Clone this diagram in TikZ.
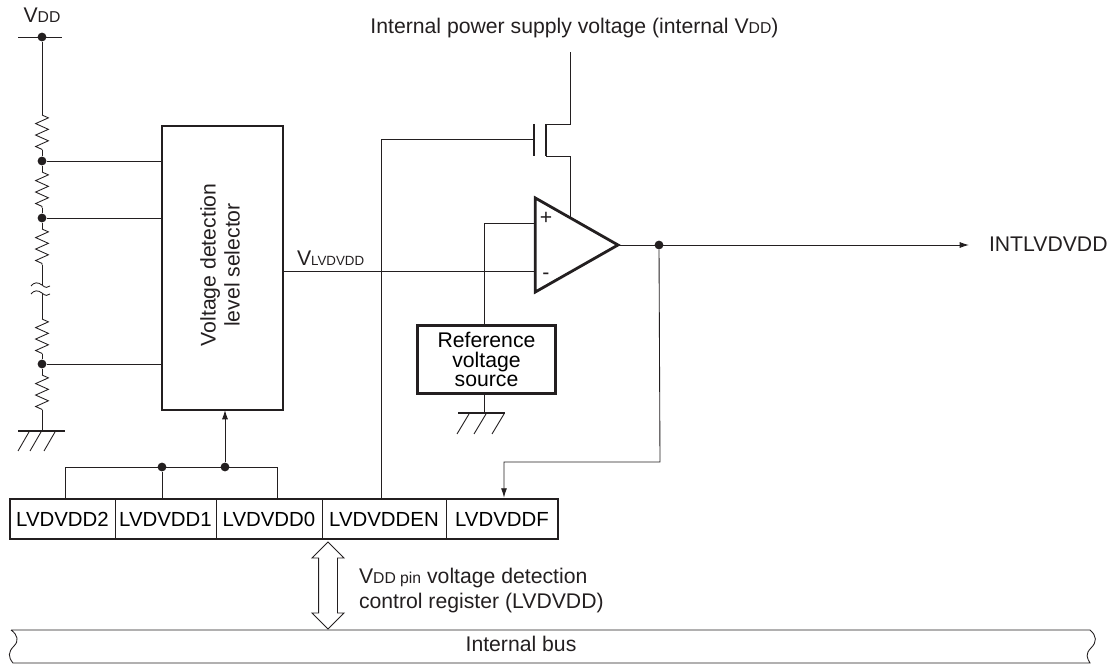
\documentclass[tikz,border=0pt]{standalone}
\usepackage{fontspec}
\setmainfont{Liberation Sans}
\usetikzlibrary{arrows.meta,positioning,shapes.geometric,shapes.arrows,fit,decorations.pathmorphing}
\definecolor{Ink}{RGB}{35,31,32}
\newcommand{\lbl}{\fontsize{15.9}{14.8}\selectfont}
\newcommand{\sm}[1]{{\fontsize{11.8}{11}\selectfont #1}}
\tikzset{
  wire/.style={line width=0.65pt,draw=Ink},
  heavy/.style={line width=2.1pt,draw=Ink},
  blockbox/.style={heavy,fill=white,inner sep=0pt,outer sep=0pt,align=center,font=\lbl},
  regcell/.style={wire,inner sep=0pt,outer sep=0pt,minimum height=30pt,font=\fontsize{15.3}{15}\selectfont},
  txt/.style={inner sep=0pt,outer sep=0pt,text=Ink,font=\lbl},
  dot/.style={circle,fill=Ink,inner sep=0pt,minimum size=6.6pt},
  res/.style={wire,decorate,decoration={zigzag,segment length=8.6pt,amplitude=4.8pt}},
  flow/.style={wire,-{Latex[length=7pt,width=4.5pt]}},
  busarrow/.style={double arrow,draw=Ink,line width=0.65pt,fill=white,inner sep=0pt,inner ysep=6.75pt,outer sep=0pt,minimum height=65.25pt,minimum width=23.25pt,double arrow head extend=4.9pt,rotate=90},
  comparator/.style={isosceles triangle,isosceles triangle stretches,heavy,fill=white,inner sep=0pt,outer sep=0pt,minimum width=70.5pt,minimum height=62pt,anchor=apex}
}
\begin{document}
\begin{tikzpicture}[x=0.75pt,y=-0.75pt]
\useasboundingbox (0,0) rectangle (1111,666);
% supply rail and divider
\node[txt] (vdd) at (42,15) {V\sm{DD}};
\node[dot] (top) at (42,37) {};
\coordinate (railL) at (18,37); \coordinate (railR) at (62,37);
\node[dot] (tap1) at (42,161) {};
\node[dot] (tap2) at (42,218) {};
\node[dot] (tap3) at (42,364) {};
\coordinate (r1a) at (42,115); \coordinate (r1b) at (42,150);
\coordinate (r2a) at (42,172); \coordinate (r2b) at (42,208);
\coordinate (r3a) at (42,229); \coordinate (r3b) at (42,265);
\coordinate (brkA) at (42,285); \coordinate (brkB) at (42,293);
\coordinate (r4a) at (42,319); \coordinate (r4b) at (42,354);
\coordinate (r5a) at (42,375); \coordinate (r5b) at (42,410);
\coordinate (gnd) at (42,431);
\draw[wire] (railL)--(railR); \draw[wire] (top)--(r1a);
\draw[res] (r1a)--(r1b); \draw[res] (r2a)--(r2b); \draw[res] (r3a)--(r3b);
\draw[res] (r4a)--(r4b); \draw[res] (r5a)--(r5b);
\draw[wire] (r1b)--(tap1)--(r2a); \draw[wire] (r2b)--(tap2)--(r3a); \draw[wire] (r3b)--(brkA);
\draw[wire] (brkB)--(r4a); \draw[wire] (r4b)--(tap3)--(r5a); \draw[wire] (r5b)--(gnd);
\foreach \y in {285,293} \draw[wire] (31,\y+1) .. controls (34,\y-3) and (38,\y-3) .. (42,\y) .. controls (45,\y+3) and (48,\y+3) .. (50,\y+1);
\draw[heavy] (18,431)--(65,431);
\foreach \x in {29,41,55} \draw[wire] (\x,432)--(\x-11,451);
% selector
\node[blockbox,minimum width=90.75pt,minimum height=213pt] (sel) at (222.5,268) {};
\node[txt,rotate=90,align=center,font=\fontsize{15.9}{18}\selectfont] (seltext) at (220,265) {Voltage detection\\level selector};
\foreach \n in {1,2,3} \draw[wire] (tap\n)--(tap\n -| sel.west);
% comparator, transistor
\node[comparator] (cmp) at (618,245) {};
\coordinate (plusin) at (535,223); \coordinate (minusin) at (535,271);
\coordinate (plusturn) at (484,223);
\node[txt] (plus) at (546,218) {+};
\node[txt] (minus) at (546,276) {-};
\node[txt,anchor=west] (vlv) at (297,258) {V{\fontsize{10}{10}\selectfont LVDVDD}};
\draw[wire] (minusin-|sel.east)--(minusin);
\node[blockbox,minimum width=104pt,minimum height=51pt] (ref) at (486.5,359.5) {Reference\\voltage\\source};
\draw[wire] (plusin)--(plusturn)--(plusturn|-ref.north);
\coordinate (gnd2) at (484,413);
\draw[wire] (plusturn|-ref.south)--(gnd2);
\draw[heavy] (458,413)--(505,413);
\foreach \x in {469,486,504} \draw[wire] (\x,414)--(\x-12,434);
\coordinate (gate) at (534,139);
\coordinate (gateT) at (534,124); \coordinate (gateB) at (534,156);
\coordinate (chanT) at (546,124); \coordinate (chanB) at (546,156);
\draw[heavy] (gateT)--(gateB); \draw[heavy] (chanT)--(chanB);
\coordinate (supply) at (570,52); \coordinate (cmpTap) at (570,217);
\draw[wire] (chanT)--(supply|-chanT)--(supply);
\draw[wire] (chanB)--(supply|-chanB)--(cmpTap);
\node[txt] (suptext) at (574.5,28) {Internal power supply voltage (internal V\sm{DD})};
% output
\node[dot] (outdot) at (659,245) {};
\node[txt,anchor=west] (intl) at (989,244) {INTLVDVDD};
\draw[flow] (cmp.apex)--(969,245);
% register
\node[regcell,minimum width=78.75pt] (bit2) at (62.5,519) {LVDVDD2};
\node[regcell,minimum width=75.75pt,right=0pt of bit2] (bit1) {LVDVDD1};
\node[regcell,minimum width=79.5pt,right=0pt of bit1] (bit0) {LVDVDD0};
\node[regcell,minimum width=93pt,right=0pt of bit0] (bitEN) {LVDVDDEN};
\node[regcell,minimum width=84pt,right=0pt of bitEN] (bitF) {LVDVDDF};
\node[heavy,inner sep=0pt,fit=(bit2)(bitF)] (reg) {};
\coordinate (sumL) at (65,467); \coordinate (sumR) at (277,467);
\node[dot] (sum1) at (162,467) {};
\node[dot] (sum2) at (225,467) {};
\draw[wire] (sumL|-reg.north)--(sumL)--(sumR)--(sumR|-reg.north);
\draw[wire] (sum1)--(sum1|-reg.north);
\draw[flow] (sum2)--(sum2|-sel.south);
\coordinate (enturn) at (381,139);
\draw[wire] (gate)--(enturn)--(enturn|-reg.north);
\coordinate (flagturn) at (504,462); \coordinate (outturn) at (660,462);
\draw[flow] (outdot)--(outturn)--(flagturn)--(flagturn|-reg.north);
% bus
\node[busarrow] (busarr) at (328,585.5) {};
\node[txt,anchor=west,align=left,font=\fontsize{15.9}{18.75}\selectfont] (regtext) at (359,591) {V\sm{DD pin} voltage detection\\control register (LVDVDD)};
\node[txt] (bustext) at (521,644) {Internal bus};
\draw[wire] (11,630)--(1090,630) .. controls (1097,636) and (1097,642) .. (1091,648) .. controls (1085,654) and (1087,658) .. (1090,663)--(13,663) .. controls (8,657) and (8,652) .. (14,646) .. controls (19,641) and (18,635) .. (11,630);
\end{tikzpicture}
\end{document}
